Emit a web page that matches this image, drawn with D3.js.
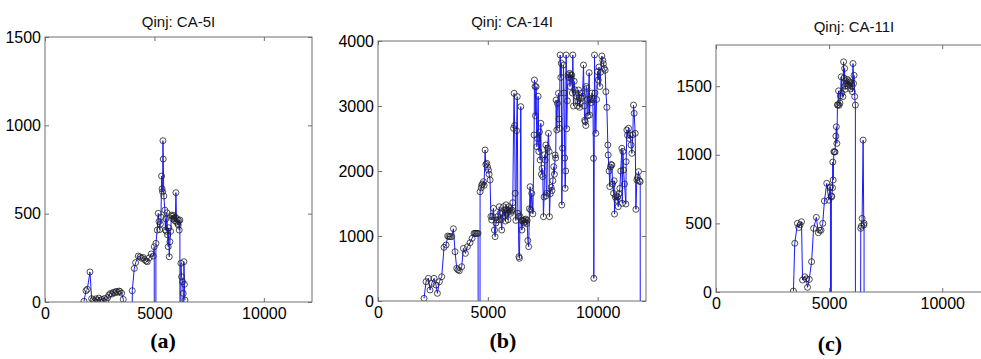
<!DOCTYPE html>
<html>
<head>
<meta charset="utf-8">
<script src="https://cdn.jsdelivr.net/npm/d3@7"></script>
<style>
  body { margin: 0; background: #fff; }
  svg { display: block; }
</style>
</head>
<body>
<svg id="chart" width="981" height="359"></svg>
<script>
// Injection rate records for three wells (values below 0 are off-scale drops)
const xTicks = [0, 5000, 10000];
const xMax = 12200;

const titles = ["Qinj: CA-5I", "Qinj: CA-14I", "Qinj: CA-11I"];
const captions = ["a", "b", "c"];

// CA-5I
const xa = [1781, 1872, 1933, 2055, 2131, 2200, 2270, 2330, 2400, 2460, 2530, 2600, 2660, 2720, 2790, 2860,
  2920, 2990, 3060, 3120, 3190, 3250, 3320, 3380, 3425, 3500, 3577, 3960, 3988, 4080, 4141, 4262, 4340, 4410,
  4480, 4550, 4620, 4673, 4760, 4855, 4947, 4992, 5040, 5068, 5128, 5175, 5210, 5240, 5270, 5300, 5327, 5350,
  5372, 5390, 5403, 5430, 5479, 5500, 5520, 5545, 5570, 5600, 5631, 5655, 5677, 5708, 5740, 5784, 5810, 5840,
  5870, 5900, 5930, 5960, 5982, 6012, 6040, 6065, 6088, 6110, 6134, 6164, 6185, 6210, 6240, 6286, 6316, 6335,
  6347, 6370, 6393];
const ya = [4, 64, 72, 170, 19, 12, 5, 18, 10, 22, 8, 15, 5, 20, 12, 25,
  40, 48, 45, 55, 52, 60, 55, 62, 59, 50, 15, -20000, 64, 190, 223, 260, 255, 248,
  252, 240, 232, 228, 250, 272, 260, 313, -20000, 332, 407, 502, 455, 410, 440, 480, 713, 640,
  624, 913, 809, 600, 520, 407, 470, 400, 505, 380, 313, 420, 256, 341, 400, 492, 485, 470,
  490, 475, 460, 480, 619, 454, 470, 445, 436, 460, 407, 464, -20000, 219, 143, 115, 49, -20000,
  228, 100, 11];
const yTicksA = [0, 500, 1000, 1500];

// CA-14I
const xb = [2096, 2187, 2293, 2369, 2445, 2551, 2642, 2703, 2794, 2900, 3007, 3098, 3174, 3230, 3280, 3356,
  3432, 3508, 3584, 3640, 3705, 3811, 3888, 3979, 4070, 4191, 4282, 4374, 4420, 4465, 4510, 4556, 4610, 4647,
  4700, 4723, 4760, 4799, 4830, 4875, 4910, 4951, 4990, 5027, 5060, 5102, 5140, 5178, 5215, 5254, 5300, 5330,
  5370, 5406, 5450, 5480, 5520, 5558, 5600, 5634, 5670, 5710, 5740, 5770, 5800, 5830, 5860, 5890, 5920, 5950,
  5980, 6010, 6040, 6070, 6100, 6136, 6170, 6196, 6220, 6245, 6275, 6310, 6340, 6365, 6390, 6415, 6439, 6465,
  6500, 6525, 6550, 6580, 6610, 6640, 6670, 6700, 6730, 6760, 6790, 6820, 6860, 6894, 6925, 6955, 7000, 7050,
  7107, 7122, 7150, 7170, 7198, 7229, 7260, 7290, 7320, 7350, 7380, 7411, 7440, 7470, 7502, 7532, 7560, 7590,
  7608, 7640, 7660, 7684, 7720, 7760, 7790, 7805, 7840, 7880, 7920, 7960, 8000, 8030, 8064, 8090, 8110, 8140,
  8170, 8216, 8240, 8260, 8292, 8320, 8345, 8367, 8400, 8444, 8470, 8500, 8519, 8545, 8565, 8590, 8620, 8650,
  8680, 8717, 8740, 8770, 8800, 8823, 8850, 8869, 8900, 8930, 8960, 8990, 9053, 9080, 9100, 9129, 9160, 9180,
  9205, 9250, 9280, 9310, 9355, 9390, 9410, 9432, 9460, 9480, 9508, 9540, 9560, 9613, 9629, 9660, 9700, 9740,
  9780, 9811, 9825, 9856, 9880, 9917, 9950, 9992, 10030, 10060, 10100, 10140, 10190, 10236, 10260, 10296,
  10340, 10373, 10420, 10463, 10478, 10520, 10550, 10580, 10610, 10646, 10680, 10722, 10750, 10767, 10800,
  10840, 10880, 10910, 10934, 10970, 11010, 11050, 11100, 11120, 11150, 11177, 11220, 11283, 11298, 11328,
  11360, 11405, 11440, 11480, 11520, 11556, 11600, 11632, 11662, 11708, 11740, 11784, 11820, 11860, 11900,
  11936, 11960];
const yb = [41, 297, 349, 169, 270, 349, 246, 118, 297, 374, 826, 862, 1000, 990, 990, 990,
  1112, 758, 503, 480, 466, 528, 810, 733, 836, 897, 964, 1041, 1041, 1041, 1041, 1041, -20000, 1681,
  1740, 1785, 1800, 1836, 1780, 2323, 2100, 2118, 2060, 2015, 1950, 1861, 1300, 1246, 1300, 1426, 1092, 990,
  1200, 1246, 1300, 1250, 1450, 1349, 1250, 1092, 1350, 1451, 1300, 1400, 1230, 1480, 1350, 1400, 1250, 1450,
  1380, 1420, 1350, 1380, 1400, 1513, 2656, 3195, 2700, 1657, 1240, 2620, 3144, 1349, 1300, 682, 657, 1300,
  2990, 1240, 1092, 1230, 1240, 1200, 1250, 1220, 1260, 1190, 1240, 930, 836, 1420, 1758, 1400, 1657, 1340,
  2554, 3400, 3300, 2850, 3297, 2374, 2500, 3150, 2300, 2600, 2169, 2733, 1950, 2041, 1913, 1297, 1600, 2250,
  2169, 2400, 1620, 1657, 2350, 2580, 2300, 1297, 1650, 1750, 1700, 1850, 2066, 1950, 2246, 2200, 3092, 2631,
  3040, 3195, 2800, 2656, 3785, 3440, 3657, 1477, 2350, 3631, 3200, 2200, 1733, 2000, 3785, 2650, 3080, 3480,
  3440, 3503, 3300, 3480, 3420, 3477, 3200, 3785, 3000, 3380, 3250, 3200, 3144, 3000, 3080, 3246, 3120, 2980,
  3041, 3120, 3200, 3150, 3631, 3000, 2780, 2759, 2700, 3300, 3272, 3100, 2850, 3512, 2862, 3100, 3050, 3200,
  3100, 2195, 349, 3785, 3200, 2580, 3100, 3528, 3400, 3600, 3300, 3520, 3769, 3700, 3650, 3580,
  3550, 3220, 2980, 2400, 2246, 2000, 1760, 2060, 2100, 2092, 1800, 1657, 1850, 1338, 1600,
  1620, 1550, 1600, 1451, 1650, 1733, 2000, 2349, 1503, 2300, 2015, 1800, 1492, 2143, 2631,
  2550, 2657, 2500, 2554, 2400, 2272, 2560, 3015, 2887, 2580, 1410, 1861, 1900, 1990, 1850,
  1836, -20000];
const yTicksB = [0, 1000, 2000, 3000, 4000];

// CA-11I
const xc = [3423, 3482, 3601, 3660, 3720, 3780, 3825, 3929, 3990, 4048, 4122, 4226, 4315, 4435, 4524, 4580,
  4643, 4718, 4792, 4896, 4985, 5040, 5059, 5075, 5100, 5119, 5150, 5164, 5179, 5210, 5238, 5260, 5300, 5320,
  5342, 5370, 5387, 5417, 5440, 5476, 5500, 5536, 5560, 5610, 5640, 5660, 5685, 5700, 5714, 5740, 5770, 5800,
  5830, 5860, 5890, 5920, 5950, 5980, 6010, 6030, 6057, 6080, 6102, 6131, 6161, 6180, 6399, 6430, 6459, 6503,
  6532, 6545, 6560];
const yc = [7, 355, 500, 470, 490, 512, 87, 111, 95, 34, 92, 221, 464, 544, 432, 450,
  450, 500, 663, 792, 669, 760, 767, -20000, 700, 694, 760, 947, 816, 1022, 1022, 1020, 1136, 1204,
  1083, 1362, 1366, 1466, 1360, 1377, 1430, 1568, 1450, 1424, 1677, 1560, 1629, 1500, 1477, 1540, 1520, 1550,
  1500, 1540, 1510, 1530, 1480, 1520, 1500, 1460, 1665, 1520, 1579, 1424, 1362, -20000, 464, 480, 536, 1107,
  488, 500, -20000];
const yTicksC = [0, 500, 1000, 1500];

const panels = [
  { xs: xa, ys: ya, yMax: 1500, yTicks: yTicksA, title: titles[0], cap: captions[0],
    l: 45, r: 312, t: 37, b: 302, titleY: 23, capX: 163, capY: 348 },
  { xs: xb, ys: yb, yMax: 4000, yTicks: yTicksB, title: titles[1], cap: captions[1],
    l: 378, r: 646, t: 41, b: 301, titleY: 23, capX: 503, capY: 348 },
  { xs: xc, ys: yc, yMax: 1800, yTicks: yTicksC, title: titles[2], cap: captions[2],
    l: 716, r: 992, t: 45, b: 292, titleY: 28, capX: 830, capY: 351 }
];

const svg = d3.select("#chart");
const sans = "'Liberation Sans', Arial, Helvetica, sans-serif";
const serif = "'Liberation Serif', 'Times New Roman', serif";
const frame = "#6e6e6e";
const fmt = d3.format("d");

panels.forEach((p, i) => {
  const x = d3.scaleLinear().domain([0, xMax]).range([p.l, p.r]);
  const y = d3.scaleLinear().domain([0, p.yMax]).range([p.b, p.t]);
  const pts = p.xs.map((v, k) => [v, p.ys[k]]);

  const clipId = "clip" + i;
  svg.append("clipPath").attr("id", clipId)
    .append("rect").attr("x", p.l).attr("y", p.t).attr("width", p.r - p.l).attr("height", p.b - p.t);

  const g = svg.append("g");
  const plot = g.append("g").attr("clip-path", `url(#${clipId})`);

  plot.append("path")
    .datum(pts)
    .attr("fill", "none")
    .attr("stroke", "#1a1aff")
    .attr("stroke-width", 1)
    .attr("d", d3.line().x(d => x(d[0])).y(d => y(d[1])));

  plot.selectAll("circle")
    .data(pts)
    .join("circle")
    .attr("cx", d => x(d[0]))
    .attr("cy", d => y(d[1]))
    .attr("r", 3)
    .attr("fill", "none")
    .attr("stroke", "#222")
    .attr("stroke-width", 0.8);

  // inward ticks on all four sides
  const axes = [
    [d3.axisBottom(x).tickValues(xTicks).tickFormat(fmt).tickSize(-4).tickPadding(6), `translate(0,${p.b})`],
    [d3.axisTop(x).tickValues(xTicks).tickFormat("").tickSize(-4), `translate(0,${p.t})`],
    [d3.axisLeft(y).tickValues(p.yTicks).tickFormat(fmt).tickSize(-4).tickPadding(4), `translate(${p.l},0)`],
    [d3.axisRight(y).tickValues(p.yTicks).tickFormat("").tickSize(-4), `translate(${p.r},0)`]
  ];
  axes.forEach(([ax, tr]) => {
    const a = g.append("g").attr("transform", tr).call(ax.tickSizeOuter(0));
    a.select(".domain").remove();
    a.selectAll(".tick line").attr("stroke", frame);
    a.selectAll(".tick text")
      .attr("fill", "#000")
      .style("font-family", sans)
      .style("font-size", "16px");
  });

  g.append("rect")
    .attr("x", p.l).attr("y", p.t)
    .attr("width", p.r - p.l).attr("height", p.b - p.t)
    .attr("fill", "none").attr("stroke", frame).attr("stroke-width", 1);

  g.append("text")
    .attr("x", (p.l + p.r) / 2)
    .attr("y", p.titleY)
    .attr("text-anchor", "middle")
    .attr("dominant-baseline", "middle")
    .style("font-family", sans)
    .style("font-size", "15px")
    .attr("fill", "#111")
    .text(p.title);

  g.append("text")
    .attr("x", p.capX)
    .attr("y", p.capY)
    .attr("text-anchor", "middle")
    .style("font-family", serif)
    .style("font-size", "22px")
    .style("font-weight", "bold")
    .attr("fill", "#000")
    .text(`(${p.cap})`);
});
</script>
</body>
</html>
